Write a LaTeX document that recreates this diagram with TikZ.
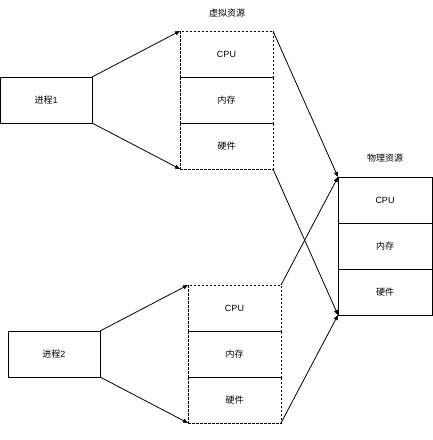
\documentclass[tikz,border=0pt]{standalone}
\usepackage{fontspec}
\setmainfont{Liberation Sans}
\newfontfamily\cjk{Noto Sans CJK SC}
\usetikzlibrary{arrows.meta}

\begin{document}
\begin{tikzpicture}[x=1pt,y=-1pt,line width=0.8pt,font=\fontsize{9}{11}\selectfont,
  cell/.style={draw,inner sep=0pt,outer sep=0pt,minimum width=93pt,minimum height=46pt},
  vcell/.style={cell,dashed,dash pattern=on 2.5pt off 1.5pt},
  link/.style={-{Triangle[length=5pt,width=4pt]}}]
\useasboundingbox (0,0) rectangle (433,440);
% processes
\node [cell,minimum width=91.5pt] (proc1) at (46.25,100) {{\cjk 进程}1};
\node [cell,minimum width=92pt] (proc2) at (54,354) {{\cjk 进程}2};
% virtual resources of process 1
\node (vlabel) at (227,13) {\cjk 虚拟资源};
\node [vcell] (v1cpu) at (226.5,54) {CPU};
\node [vcell] (v1mem) at (226.5,100) {\cjk 内存};
\node [vcell] (v1hw) at (226.5,146) {\cjk 硬件};
% virtual resources of process 2
\node [vcell] (v2cpu) at (234.5,308) {CPU};
\node [vcell] (v2mem) at (234.5,354) {\cjk 内存};
\node [vcell] (v2hw) at (234.5,400) {\cjk 硬件};
% physical resources
\node (plabel) at (385,158) {\cjk 物理资源};
\node [cell,minimum width=94pt] (pcpu) at (385,200) {CPU};
\node [cell,minimum width=94pt] (pmem) at (385,246) {\cjk 内存};
\node [cell,minimum width=94pt] (phw) at (385,292) {\cjk 硬件};
% arrows
\draw [link] (proc1.north east) -- (v1cpu.north west);
\draw [link] (proc1.south east) -- (v1hw.south west);
\draw [link] (proc2.north east) -- (v2cpu.north west);
\draw [link] (proc2.south east) -- (v2hw.south west);
\draw [link] (v1cpu.north east) -- (pcpu.north west);
\draw [link] (v1hw.south east) -- (phw.south west);
\draw [link] (v2cpu.north east) -- (pcpu.north west);
\draw [link] (v2hw.south east) -- (phw.south west);
\end{tikzpicture}
\end{document}
